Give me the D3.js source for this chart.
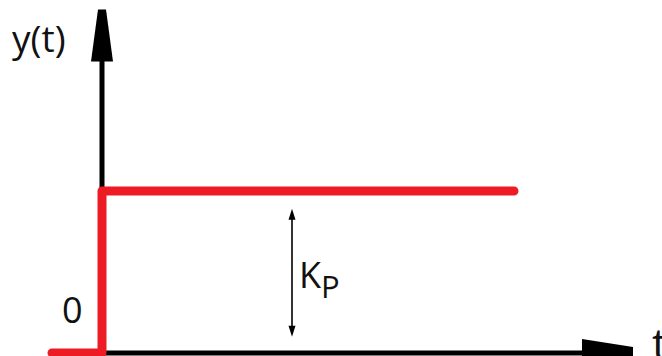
<!DOCTYPE html>
<html>
<head>
<meta charset="utf-8">
<script src="https://cdn.jsdelivr.net/npm/d3@7"></script>
<style>
  body { margin: 0; background: #fff; }
  svg { display: block; }
  .lbl { font-family: "Open Sans", sans-serif; fill: #111; }
</style>
</head>
<body>
<script>
// step response data
const stepT = [-1, 0, 8.24];
const stepY = [0, 1, 1];
// axis extents (data units)
const tMax = 10.62;
const yMax = 2.12;
// Kp annotation: time and value range
const kpT = 3.8;
const kpRange = [0.1, 0.89];
// labels
const yLabel = "y(t)";
const tLabel = "t";
const zeroLabel = "0";

const w = 662, h = 356;

const xScale = d3.scaleLinear()
                 .domain([-1, tMax])
                 .range([52, 633]);
const yScale = d3.scaleLinear()
                 .domain([0, 1])
                 .range([353, 191]);

const svg = d3.select("body").append("svg")
              .attr("width", w)
              .attr("height", h);

const x0 = xScale(0), y0 = yScale(0);

// y axis shaft + arrow
svg.append("line")
   .attr("x1", x0).attr("x2", x0)
   .attr("y1", y0).attr("y2", yScale(yMax) + 20)
   .attr("stroke", "#000").attr("stroke-width", 5);
const yTip = yScale(yMax);
svg.append("path")
   .attr("d", `M${x0-4},${yTip} L${x0+4},${yTip} L${x0+11},${yTip+52} L${x0-11},${yTip+52} Z`)
   .attr("fill", "#000");

// x axis shaft + arrow
const xTip = xScale(tMax);
svg.append("line")
   .attr("x1", x0).attr("x2", xTip - 30)
   .attr("y1", y0).attr("y2", y0)
   .attr("stroke", "#000").attr("stroke-width", 5);
svg.append("path")
   .attr("d", `M${xTip-51},${y0-14} L${xTip},${y0-6} L${xTip},${y0+6} L${xTip-51},${y0+14} Z`)
   .attr("fill", "#000");

// step line
const line = d3.line()
               .curve(d3.curveStepAfter)
               .x((d, i) => xScale(stepT[i]))
               .y(d => yScale(d));
svg.append("path")
   .datum(stepY)
   .attr("d", line)
   .attr("fill", "none")
   .attr("stroke", "#ED1C24")
   .attr("stroke-width", 9)
   .attr("stroke-linecap", "round")
   .attr("stroke-linejoin", "round");

// Kp double arrow
const kx = xScale(kpT);
const ka = yScale(kpRange[1]), kb = yScale(kpRange[0]);
svg.append("line")
   .attr("x1", kx).attr("x2", kx)
   .attr("y1", ka + 4).attr("y2", kb - 4)
   .attr("stroke", "#000").attr("stroke-width", 1.6);
svg.append("path")
   .attr("d", `M${kx},${ka} L${kx+3.5},${ka+11} L${kx-3.5},${ka+11} Z M${kx},${kb} L${kx+3.5},${kb-11} L${kx-3.5},${kb-11} Z`)
   .attr("fill", "#000");

// labels
svg.append("text").attr("class", "lbl")
   .attr("x", 12).attr("y", 52)
   .style("font-size", "37px")
   .text(yLabel);
svg.append("text").attr("class", "lbl")
   .attr("x", 62).attr("y", 323)
   .style("font-size", "36px")
   .text(zeroLabel);
svg.append("text").attr("class", "lbl")
   .attr("x", 652).attr("y", 360)
   .style("font-size", "44px")
   .text(tLabel);
const kp = svg.append("text").attr("class", "lbl")
   .attr("x", kx + 7).attr("y", 288)
   .style("font-size", "36px");
kp.append("tspan").text("K");
kp.append("tspan").attr("dy", 10).style("font-size", "31px").text("P");
</script>
</body>
</html>
